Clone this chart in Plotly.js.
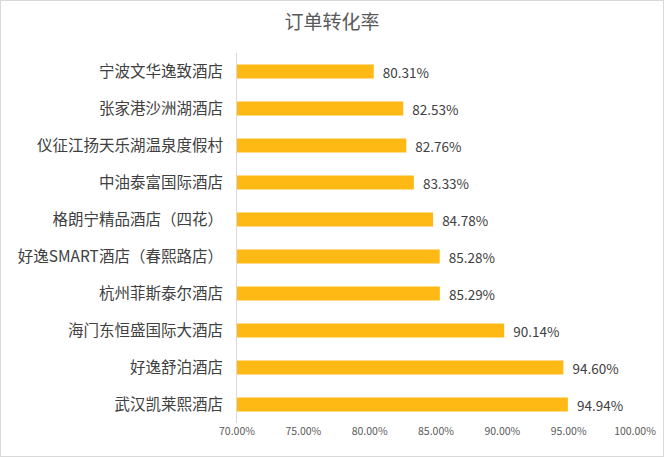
<!DOCTYPE html>
<html>
<head>
<meta charset="utf-8">
<script src="https://cdn.plot.ly/plotly-3.0.1.min.js"></script>
<style>
  html, body { margin: 0; padding: 0; background: #fff; }
  #plot { width: 664px; height: 457px; box-sizing: border-box; border: 1px solid #d9d9d9; }
</style>
</head>
<body>
<div id="plot"></div>
<script>
// hotels, top to bottom as shown
var hotels = [
  "宁波文华逸致酒店",
  "张家港沙洲湖酒店",
  "仪征江扬天乐湖温泉度假村",
  "中油泰富国际酒店",
  "格朗宁精品酒店（四花）",
  "好逸SMART酒店（春熙路店）",
  "杭州菲斯泰尔酒店",
  "海门东恒盛国际大酒店",
  "好逸舒泊酒店",
  "武汉凯莱熙酒店"
];
var rates = [0.8031, 0.8253, 0.8276, 0.8333, 0.8478, 0.8528, 0.8529, 0.9014, 0.9460, 0.9494];
var tickVals = [0.70, 0.75, 0.80, 0.85, 0.90, 0.95, 1.00];

var font = '"Noto Sans CJK SC", "Microsoft YaHei", sans-serif';

var data = [{
  type: "bar",
  orientation: "h",
  x: rates,
  y: hotels,
  marker: {color: "#FFB915"},
  width: 0.38,
  texttemplate: "\u00a0\u00a0%{x:.2%}",
  textposition: "outside",
  constraintext: "none",
  cliponaxis: false,
  textfont: {family: font, size: 13.5, color: "#404040"},
  hoverinfo: "none"
}];

var layout = {
  width: 662,
  height: 455,
  margin: {t: 52, r: 28, b: 33, l: 236},
  paper_bgcolor: "#fff",
  plot_bgcolor: "#fff",
  showlegend: false,
  title: {
    text: "订单转化率",
    font: {family: font, size: 19, color: "#595959"},
    x: 0.5, xanchor: "center",
    y: 0.952, yanchor: "middle"
  },
  xaxis: {
    range: [0.70, 1.00],
    tickvals: tickVals,
    tickformat: ".2%",
    showgrid: false,
    zeroline: false,
    showline: false,
    ticks: "",
    tickfont: {family: font, size: 10.5, color: "#595959"},
    fixedrange: true
  },
  yaxis: {
    autorange: "reversed",
    showgrid: false,
    zeroline: false,
    showline: true,
    linecolor: "#d9d9d9",
    linewidth: 1,
    ticks: "",
    ticklabelstandoff: 10,
    tickfont: {family: font, size: 15.5, color: "#404040"},
    fixedrange: true
  }
};

Plotly.newPlot("plot", data, layout, {displayModeBar: false, staticPlot: true});
</script>
</body>
</html>
